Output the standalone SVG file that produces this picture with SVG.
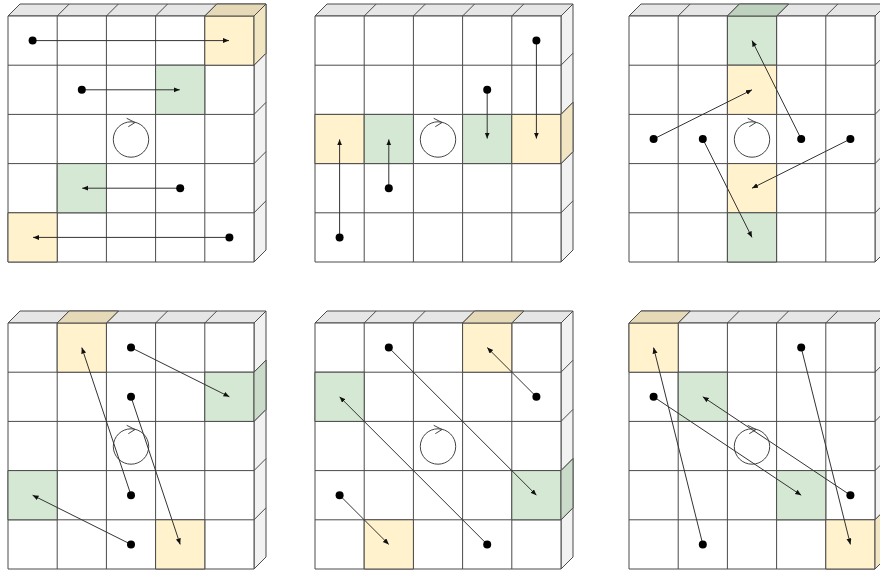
<svg xmlns="http://www.w3.org/2000/svg" xmlns:xlink="http://www.w3.org/1999/xlink" width="880" height="570" viewBox="0 0 880 570">
<style>
.f{stroke:#4a4a4a;stroke-width:1;stroke-linejoin:round}
.w{fill:#ffffff}
.tg{fill:#e6e6e6}
.rg{fill:#f2f2f2}
.y{fill:#fff2cc}
.ty{fill:#e6d9b8}
.ry{fill:#f2e5c1}
.g{fill:#d5e8d4}
.tgr{fill:#bfd1bf}
.rgr{fill:#cadcc9}
.ln{fill:none;stroke:#4a4a4a;stroke-width:1}
.rot{fill:none;stroke:#444;stroke-width:1}
.dot{fill:#000}
.arr{fill:none;stroke:#333;stroke-width:1;marker-end:url(#ah)}
</style>
<defs>
<marker id="ah" markerUnits="userSpaceOnUse" markerWidth="7" markerHeight="6" refX="6" refY="2.5" orient="auto">
<path d="M0,0 L6,2.5 L0,5 Z" fill="#111"/>
</marker>
<g id="base">
<polygon class="f tg" points="0,0 12,-12 258,-12 246,0"/>
<path class="ln" d="M49.2,0 L61.2,-12 M98.4,0 L110.4,-12 M147.6,0 L159.6,-12 M196.8,0 L208.8,-12"/>
<polygon class="f rg" points="246,0 258,-12 258,234 246,246"/>
<path class="ln" d="M246,49.2 L258,37.2 M246,98.4 L258,86.4 M246,147.6 L258,135.6 M246,196.8 L258,184.8"/>
<rect class="f w" x="0" y="0" width="246" height="246"/>
<path class="ln" d="M49.2,0 V246 M98.4,0 V246 M147.6,0 V246 M196.8,0 V246 M0,49.2 H246 M0,98.4 H246 M0,147.6 H246 M0,196.8 H246"/>
</g>
<g id="rotate">
<circle class="rot" cx="123" cy="123.5" r="17.7"/>
<path class="rot" d="M118.7,102.3 L127,106.5 L120.3,110.7"/>
</g>
</defs>

<g id="panel1" transform="translate(8,16)">
<use href="#base"/>
<g id="p1-c40"><rect class="f y" x="196.8" y="0" width="49.2" height="49.2"/><polygon class="f ty" points="196.8,0 208.8,-12 258,-12 246,0"/><polygon class="f ry" points="246,0 258,-12 258,37.2 246,49.2"/></g>
<g id="p1-c31"><rect class="f g" x="147.6" y="49.2" width="49.2" height="49.2"/></g>
<g id="p1-c13"><rect class="f g" x="49.2" y="147.6" width="49.2" height="49.2"/></g>
<g id="p1-c04"><rect class="f y" x="0" y="196.8" width="49.2" height="49.2"/></g>
<use id="p1-rot" href="#rotate"/>
</g>

<g id="panel2" transform="translate(315,16)">
<use href="#base"/>
<g id="p2-c02"><rect class="f y" x="0" y="98.4" width="49.2" height="49.2"/></g>
<g id="p2-c12"><rect class="f g" x="49.2" y="98.4" width="49.2" height="49.2"/></g>
<g id="p2-c32"><rect class="f g" x="147.6" y="98.4" width="49.2" height="49.2"/></g>
<g id="p2-c42"><rect class="f y" x="196.8" y="98.4" width="49.2" height="49.2"/><polygon class="f ry" points="246,98.4 258,86.4 258,135.6 246,147.6"/></g>
<use id="p2-rot" href="#rotate"/>
</g>

<g id="panel3" transform="translate(629,16)">
<use href="#base"/>
<g id="p3-c20"><rect class="f g" x="98.4" y="0" width="49.2" height="49.2"/><polygon class="f tgr" points="98.4,0 110.4,-12 159.6,-12 147.6,0"/></g>
<g id="p3-c21"><rect class="f y" x="98.4" y="49.2" width="49.2" height="49.2"/></g>
<g id="p3-c23"><rect class="f y" x="98.4" y="147.6" width="49.2" height="49.2"/></g>
<g id="p3-c24"><rect class="f g" x="98.4" y="196.8" width="49.2" height="49.2"/></g>
<use id="p3-rot" href="#rotate"/>
</g>

<g id="panel4" transform="translate(8,323)">
<use href="#base"/>
<g id="p4-c10"><rect class="f y" x="49.2" y="0" width="49.2" height="49.2"/><polygon class="f ty" points="49.2,0 61.2,-12 110.4,-12 98.4,0"/></g>
<g id="p4-c41"><rect class="f g" x="196.8" y="49.2" width="49.2" height="49.2"/><polygon class="f rgr" points="246,49.2 258,37.2 258,86.4 246,98.4"/></g>
<g id="p4-c03"><rect class="f g" x="0" y="147.6" width="49.2" height="49.2"/></g>
<g id="p4-c34"><rect class="f y" x="147.6" y="196.8" width="49.2" height="49.2"/></g>
<use id="p4-rot" href="#rotate"/>
</g>

<g id="panel5" transform="translate(315,323)">
<use href="#base"/>
<g id="p5-c30"><rect class="f y" x="147.6" y="0" width="49.2" height="49.2"/><polygon class="f ty" points="147.6,0 159.6,-12 208.8,-12 196.8,0"/></g>
<g id="p5-c01"><rect class="f g" x="0" y="49.2" width="49.2" height="49.2"/></g>
<g id="p5-c43"><rect class="f g" x="196.8" y="147.6" width="49.2" height="49.2"/><polygon class="f rgr" points="246,147.6 258,135.6 258,184.8 246,196.8"/></g>
<g id="p5-c14"><rect class="f y" x="49.2" y="196.8" width="49.2" height="49.2"/></g>
<use id="p5-rot" href="#rotate"/>
</g>

<g id="panel6" transform="translate(629,323)">
<use href="#base"/>
<g id="p6-c00"><rect class="f y" x="0" y="0" width="49.2" height="49.2"/><polygon class="f ty" points="0,0 12,-12 61.2,-12 49.2,0"/></g>
<g id="p6-c11"><rect class="f g" x="49.2" y="49.2" width="49.2" height="49.2"/></g>
<g id="p6-c33"><rect class="f g" x="147.6" y="147.6" width="49.2" height="49.2"/></g>
<g id="p6-c44"><rect class="f y" x="196.8" y="196.8" width="49.2" height="49.2"/><polygon class="f ry" points="246,196.8 258,184.8 258,234 246,246"/></g>
<use id="p6-rot" href="#rotate"/>
</g>

<g id="connectors">
<line class="arr" x1="32.6" y1="40.6" x2="229" y2="40.6"/>
<line class="arr" x1="81.8" y1="89.8" x2="179.8" y2="89.8"/>
<line class="arr" x1="180.2" y1="188.2" x2="82.2" y2="188.2"/>
<line class="arr" x1="229.4" y1="237.4" x2="33" y2="237.4"/>

<line class="arr" x1="339.6" y1="237.4" x2="339.6" y2="139.4"/>
<line class="arr" x1="388.8" y1="188.2" x2="388.8" y2="139.4"/>
<line class="arr" x1="487.2" y1="89.8" x2="487.2" y2="138.6"/>
<line class="arr" x1="536.4" y1="40.6" x2="536.4" y2="138.6"/>

<line class="arr" x1="653.6" y1="139" x2="752" y2="89.8"/>
<line class="arr" x1="702.8" y1="139" x2="752" y2="237.4"/>
<line class="arr" x1="801.2" y1="139" x2="752" y2="40.6"/>
<line class="arr" x1="850.4" y1="139" x2="752" y2="188.2"/>

<line class="arr" x1="131" y1="347.6" x2="229.4" y2="396.8"/>
<line class="arr" x1="131" y1="396.8" x2="180.2" y2="544.4"/>
<line class="arr" x1="131" y1="495.2" x2="81.8" y2="347.6"/>
<line class="arr" x1="131" y1="544.4" x2="32.6" y2="495.2"/>

<line class="arr" x1="388.8" y1="347.6" x2="536.4" y2="495.2"/>
<line class="arr" x1="536.4" y1="396.8" x2="487.2" y2="347.6"/>
<line class="arr" x1="487.2" y1="544.4" x2="339.6" y2="396.8"/>
<line class="arr" x1="339.6" y1="495.2" x2="388.8" y2="544.4"/>

<line class="arr" x1="702.8" y1="544.4" x2="653.6" y2="347.6"/>
<line class="arr" x1="653.6" y1="396.8" x2="801.2" y2="495.2"/>
<line class="arr" x1="850.4" y1="495.2" x2="702.8" y2="396.8"/>
<line class="arr" x1="801.2" y1="347.6" x2="850.4" y2="544.4"/>
</g>

<g id="dots">
<circle class="dot" cx="32.6" cy="40.6" r="4"/>
<circle class="dot" cx="81.8" cy="89.8" r="4"/>
<circle class="dot" cx="180.2" cy="188.2" r="4"/>
<circle class="dot" cx="229.4" cy="237.4" r="4"/>

<circle class="dot" cx="339.6" cy="237.4" r="4"/>
<circle class="dot" cx="388.8" cy="188.2" r="4"/>
<circle class="dot" cx="487.2" cy="89.8" r="4"/>
<circle class="dot" cx="536.4" cy="40.6" r="4"/>

<circle class="dot" cx="653.6" cy="139" r="4"/>
<circle class="dot" cx="702.8" cy="139" r="4"/>
<circle class="dot" cx="801.2" cy="139" r="4"/>
<circle class="dot" cx="850.4" cy="139" r="4"/>

<circle class="dot" cx="131" cy="347.6" r="4"/>
<circle class="dot" cx="131" cy="396.8" r="4"/>
<circle class="dot" cx="131" cy="495.2" r="4"/>
<circle class="dot" cx="131" cy="544.4" r="4"/>

<circle class="dot" cx="388.8" cy="347.6" r="4"/>
<circle class="dot" cx="536.4" cy="396.8" r="4"/>
<circle class="dot" cx="487.2" cy="544.4" r="4"/>
<circle class="dot" cx="339.6" cy="495.2" r="4"/>

<circle class="dot" cx="702.8" cy="544.4" r="4"/>
<circle class="dot" cx="653.6" cy="396.8" r="4"/>
<circle class="dot" cx="850.4" cy="495.2" r="4"/>
<circle class="dot" cx="801.2" cy="347.6" r="4"/>
</g>
</svg>
